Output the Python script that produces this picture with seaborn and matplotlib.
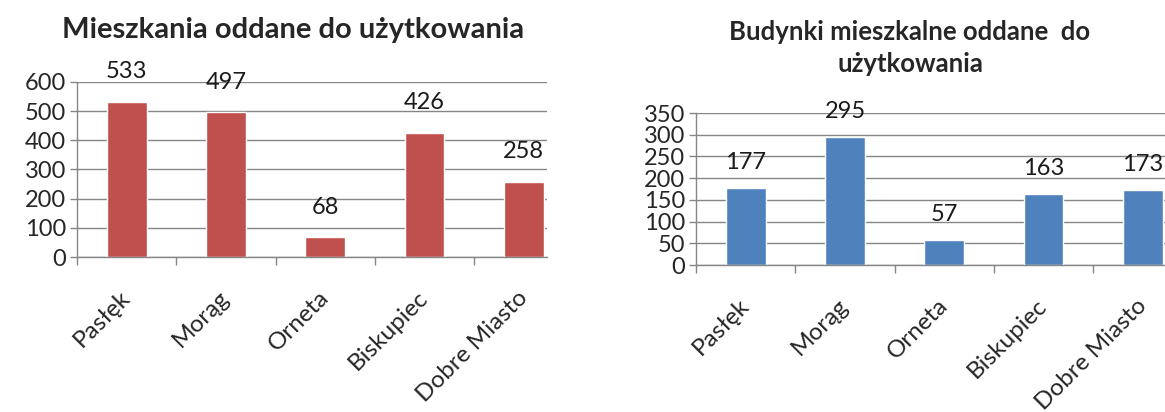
import matplotlib
matplotlib.use("Agg")
import matplotlib.pyplot as plt
import seaborn as sns

# data
miasta = ["Pasłęk", "Morąg", "Orneta", "Biskupiec", "Dobre Miasto"]
mieszkania = [533, 497, 68, 426, 258]
budynki = [177, 295, 57, 163, 173]

tytul_lewy = "Mieszkania oddane do użytkowania"
tytul_prawy = "Budynki mieszkalne oddane  do\nużytkowania"

sns.set_style("white")
plt.rcParams["font.family"] = ["Lato", "DejaVu Sans"]

szary = "#868686"

fig = plt.figure(figsize=(11.65, 4.12), dpi=100)
ax1 = fig.add_axes([77 / 1165, 1 - 257 / 412, 470 / 1165, 175 / 412])
ax2 = fig.add_axes([696 / 1165, 1 - 265 / 412, 469 / 1165, 152 / 412])


def rysuj(ax, wartosci, kolor, ymax, krok, offset):
    sns.barplot(x=miasta, y=wartosci, color=kolor, saturation=1, width=0.4,
                ax=ax, zorder=3)
    ax.set_ylim(0, ymax)
    ax.set_yticks(range(0, ymax + 1, krok))
    ax.set_xlim(-0.5, -0.5 + ax.get_position().width * 1165 / 99.3)
    ax.grid(axis="y", color=szary, linewidth=1, zorder=0)
    for s in ["top", "right"]:
        ax.spines[s].set_visible(False)
    for s in ["left", "bottom"]:
        ax.spines[s].set_color(szary)
        ax.spines[s].set_linewidth(1)
        ax.spines[s].set_zorder(4)
    # category ticks: labels at centres, marks at boundaries
    ax.set_xticks(range(len(miasta)))
    ax.set_xticklabels(miasta, rotation=45, ha="right", va="center",
                       rotation_mode="anchor", fontsize=17.5)
    ax.tick_params(axis="x", which="major", length=0, pad=27)
    ax.set_xticks([i - 0.5 for i in range(len(miasta))], minor=True)
    ax.tick_params(axis="x", which="minor", length=6, width=1, color=szary,
                   direction="out", bottom=True)
    ax.tick_params(axis="y", length=5, width=1, color=szary, left=True,
                   labelsize=17, pad=3)
    ax.set_xlabel("")
    ax.set_ylabel("")
    for i, v in enumerate(wartosci):
        ax.annotate(str(v), (i, v), xytext=(0, offset), textcoords="offset points",
                    ha="center", va="bottom", fontsize=17, color="#1a1a1a")


rysuj(ax1, mieszkania, "#C0504D", 600, 100, 14)
rysuj(ax2, budynki, "#4F81BD", 350, 50, 11)

fig.text(293 / 1165, 1 - 30 / 412, tytul_lewy, ha="center", va="center",
         fontsize=21, fontweight="bold")
fig.text(910 / 1165, 1 - 48 / 412, tytul_prawy, ha="center", va="center",
         fontsize=18.5, fontweight="bold", linespacing=1.45)

fig.savefig("out.png", dpi=100)
